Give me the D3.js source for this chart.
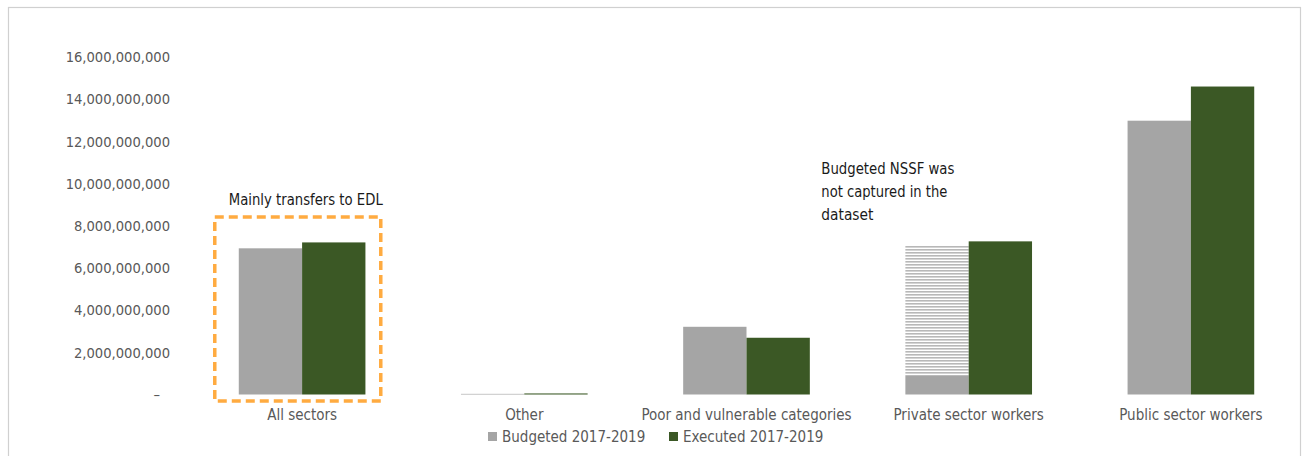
<!DOCTYPE html>
<html><head><meta charset="utf-8">
<script src="https://cdn.jsdelivr.net/npm/d3@7"></script>
<style>
body{margin:0;background:#fff;}
text{font-family:"DejaVu Sans Condensed","Liberation Sans Narrow",sans-serif;}
</style></head><body>
<svg id="chart" width="1306" height="456"></svg>
<script>
const categories = ["All sectors","Other","Poor and vulnerable categories","Private sector workers","Public sector workers"];
const budgeted = [6.93e9, 0.03e9, 3.21e9, 0.88e9, 12.98e9];
const executed = [7.21e9, 0.05e9, 2.69e9, 7.26e9, 14.6e9];
const nssfGap = [0, 0, 0, 7.07e9, 0]; // hatched, budgeted NSSF not captured
const seriesNames = ["Budgeted 2017-2019","Executed 2017-2019"];
const yTicks = [0,2e9,4e9,6e9,8e9,10e9,12e9,14e9,16e9];

const FONT = '"DejaVu Sans Condensed","Liberation Sans Narrow",sans-serif';
const svg = d3.select("#chart");
const colors = {b:"#a5a5a5", e:"#3b5825"};

// frame
svg.append("rect").attr("x",8.5).attr("y",7.5).attr("width",1292).attr("height",460)
  .attr("fill","none").attr("stroke","#d0d0d0").attr("stroke-width",1.2);

const x = d3.scaleBand().domain(categories).range([191,1302]).paddingInner(0.43).paddingOuter(0.215);
const y = d3.scaleLinear().domain([0,16e9]).range([394.5,57]);

const defs = svg.append("defs");
const pat = defs.append("pattern").attr("id","hatch").attr("patternUnits","userSpaceOnUse")
  .attr("width",8).attr("height",3);
pat.append("rect").attr("width",8).attr("height",3).attr("fill","#fff");
pat.append("rect").attr("width",8).attr("height",1.6).attr("fill","#b8b8b8");

// y axis
const yAxis = d3.axisLeft(y).tickValues(yTicks).tickSize(0).tickPadding(0)
  .tickFormat(d => d===0 ? "–" : d3.format(",")(d));
const ga = svg.append("g").attr("transform","translate(170,0)").call(yAxis);
ga.select(".domain").remove();
ga.selectAll("text").attr("fill","#595959").style("font-size","14.6px").style("font-family",FONT);
ga.selectAll(".tick").filter(d=>d===0).select("text").attr("dx",-10);

const bw = x.bandwidth()/2;
const g = svg.append("g");
// hatched
g.selectAll(".hatch").data(categories.filter((c,i)=>nssfGap[i]>0)).join("rect")
  .attr("x",c=>x(c)).attr("width",bw)
  .attr("y",c=>y(nssfGap[categories.indexOf(c)]))
  .attr("height",c=>y(budgeted[categories.indexOf(c)]) - y(nssfGap[categories.indexOf(c)]))
  .attr("fill","url(#hatch)");
g.selectAll(".bud").data(categories).join("rect")
  .attr("x",c=>x(c)).attr("width",bw)
  .attr("y",(c,i)=>y(budgeted[i])).attr("height",(c,i)=>y(0)-y(budgeted[i]))
  .attr("fill",colors.b);
g.selectAll(".exe").data(categories).join("rect")
  .attr("x",c=>x(c)+bw).attr("width",bw)
  .attr("y",(c,i)=>y(executed[i])).attr("height",(c,i)=>y(0)-y(executed[i]))
  .attr("fill",colors.e);

// x axis labels
const xAxis = d3.axisBottom(x).tickSize(0).tickPadding(0);
const gx = svg.append("g").attr("transform","translate(0,409)").call(xAxis);
gx.select(".domain").remove();
gx.selectAll("text").attr("fill","#595959").style("font-size","15px").style("font-family",FONT);

// annotation box
const c0 = x(categories[0]);
svg.append("rect").attr("x",c0-24).attr("y",217).attr("width",166).attr("height",184)
  .attr("fill","none").attr("stroke","#ffab40").attr("stroke-width",3.5)
  .attr("stroke-dasharray","9,5");
svg.append("text").attr("x",c0-10).attr("y",205).text("Mainly transfers to EDL")
  .attr("fill","#1a1a1a").style("font-size","16px").attr("textLength",154).attr("lengthAdjust","spacingAndGlyphs");

const c3 = x(categories[3]);
const ann = svg.append("text").attr("fill","#1a1a1a").style("font-size","16px");
[["Budgeted NSSF was",133],["not captured in the",126],["dataset",52]].forEach(([t,w],i)=>{
  ann.append("tspan").attr("x",c3-84).attr("y",174+i*23).text(t)
    .attr("textLength",w).attr("lengthAdjust","spacingAndGlyphs");
});

// legend
const leg = svg.append("g");
[[488,colors.b,seriesNames[0]],[669,colors.e,seriesNames[1]]].forEach(([lx,col,t])=>{
  leg.append("rect").attr("x",lx).attr("y",432).attr("width",9).attr("height",9).attr("fill",col);
  leg.append("text").attr("x",lx+14).attr("y",442).text(t).attr("fill","#595959").style("font-size","15px");
});
</script></body></html>
